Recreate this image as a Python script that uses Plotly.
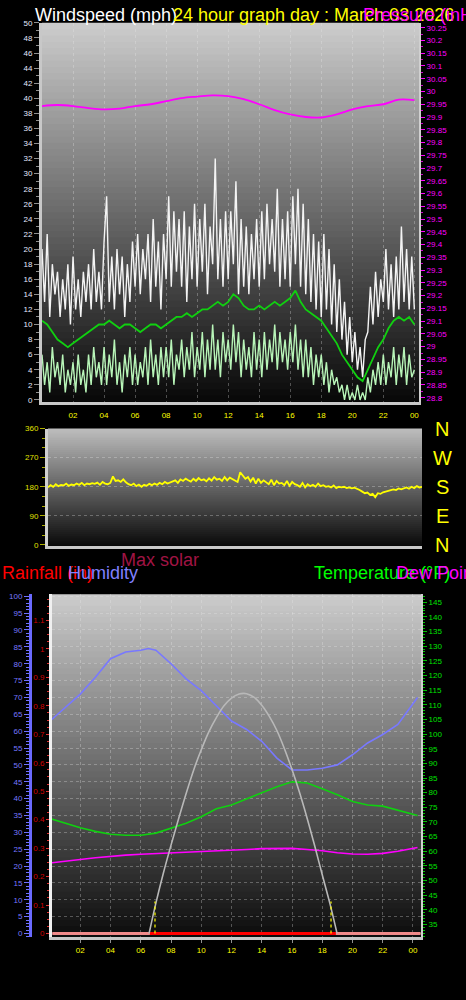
import plotly.graph_objects as go

W, H = 466, 1000


def fx(p):
    return p / W


def fy(p):
    return 1 - p / H


# ---------------- DATA ----------------
# top panel: 10-minute samples over 24 h
gust_mph = [
    20, 13, 22, 11, 18, 14,
    17, 11, 16, 12, 18, 10,
    19, 12, 16, 11, 17, 13,
    18, 12, 20, 13, 17, 12,
    21, 27, 13, 19, 12, 20,
    14, 19, 11, 18, 13, 21,
    15, 22, 14, 20, 16, 22,
    13, 24, 15, 21, 12, 22,
    16, 27, 15, 25, 17, 24,
    15, 25, 13, 23, 16, 26,
    15, 24, 17, 26, 14, 23,
    18, 32, 16, 24, 15, 25,
    16, 25, 18, 29, 14, 24,
    15, 23, 14, 22, 16, 24,
    15, 25, 16, 26, 18, 24,
    17, 28, 15, 24, 16, 25,
    15, 27, 18, 28, 15, 26,
    14, 24, 13, 22, 12, 21,
    11, 22, 12, 20, 10, 18,
    9, 16, 8, 13, 6, 11,
    5, 9, 4, 7, 3, 8,
    9, 15, 10, 17, 11, 16,
    13, 20, 12, 18, 11, 19,
    12, 23, 13, 20, 12, 19,
    12,
]
wind_mph = [
    6, 2, 5, 1, 7, 3,
    5, 2, 6, 1, 4, 2,
    5, 1, 6, 2, 4, 1,
    6, 2, 7, 3, 5, 2,
    7, 2, 6, 3, 8, 2,
    5, 1, 6, 3, 7, 2,
    6, 2, 5, 3, 7, 2,
    8, 3, 6, 2, 7, 3,
    7, 3, 8, 2, 6, 4,
    8, 3, 7, 4, 9, 3,
    7, 4, 9, 3, 8, 4,
    10, 4, 8, 3, 9, 5,
    8, 4, 10, 5, 9, 3,
    8, 4, 7, 3, 9, 4,
    8, 3, 9, 4, 8, 5,
    10, 4, 9, 5, 8, 4,
    9, 5, 10, 4, 8, 3,
    8, 3, 7, 2, 6, 3,
    6, 2, 5, 1, 4, 2,
    3, 1, 2, 0, 2, 0,
    1, 0, 2, 0, 1, 0,
    3, 1, 4, 2, 5, 2,
    6, 2, 5, 3, 7, 2,
    6, 3, 7, 2, 6, 3,
    4,
]
# 20-minute average wind
avg_mph = [
    10.5, 10, 9,
    8, 7.5, 7,
    7.5, 8, 8.5,
    9, 9.5, 10,
    10, 10.5, 10,
    9.5, 10, 10,
    9.5, 9, 9.5,
    10, 10, 9.5,
    10, 10.5, 11,
    11, 11.5, 11,
    11.5, 12, 12,
    12.5, 13, 12.5,
    13, 14, 13.5,
    12.5, 12, 12,
    12.5, 12, 12.5,
    13, 12.5, 13,
    13.5, 14.5, 13,
    12, 11.5, 11,
    10.5, 9.5, 8.5,
    7.5, 6, 5,
    4, 3, 2.5,
    4, 5.5, 7,
    8, 9.5, 10.5,
    11, 10.5, 11,
    10,
]
pressure_hours = list(range(25))
pressure_inhg = [29.943, 29.947, 29.943, 29.935, 29.930, 29.933, 29.943, 29.950,
                 29.962, 29.974, 29.980, 29.985, 29.982, 29.970, 29.950, 29.927,
                 29.910, 29.900, 29.898, 29.910, 29.930, 29.943, 29.950, 29.968,
                 29.966]

# middle panel: wind direction, 10-minute samples
dir_deg = [
    178, 185, 180, 188, 182, 186,
    184, 190, 183, 187, 185, 190,
    186, 192, 185, 190, 188, 191,
    189, 193, 186, 195, 190, 188,
    192, 212, 198, 200, 195, 203,
    194, 188, 185, 190, 182, 187,
    180, 186, 183, 189, 185, 190,
    186, 192, 188, 195, 190, 193,
    195, 200, 192, 203, 198, 205,
    200, 196, 205, 198, 207, 200,
    203, 197, 206, 199, 210, 202,
    205, 198, 210, 200, 208, 203,
    200, 195, 225, 215, 205, 210,
    196, 208, 190, 205, 192, 200,
    195, 188, 202, 185, 198, 190,
    192, 185, 198, 183, 195, 188,
    185, 180, 192, 178, 188, 182,
    186, 180, 190, 182, 185, 180,
    182, 178, 184, 176, 180, 178,
    180, 176, 178, 175, 177, 174,
    170, 165, 160, 162, 155, 158,
    148, 160, 158, 163, 165, 168,
    168, 172, 170, 175, 172, 176,
    178, 174, 180, 176, 182, 178,
    180,
]

# bottom panel
hum_hours = [0, 1, 2, 3, 4, 5, 6, 6.5, 7, 8, 9, 10, 11, 12, 13, 14, 15, 16, 17, 18,
             19, 20, 21, 22, 23, 24, 24.3]
humidity_pct = [63, 67, 71, 76, 81.5, 83.5, 84, 84.5, 84, 80, 75.5, 72, 67.5, 63, 60.5,
                57, 52, 48.5, 48.5, 49, 50, 53, 56.5, 59, 62, 68, 70]
temp_hours = [0, 1, 2, 3, 4, 5, 6, 7, 8, 9, 10, 11, 12, 13, 14, 15, 16, 17, 18, 19, 20,
              21, 22, 23, 24, 24.3]
temp_f = [71.2, 69.5, 68, 66.8, 65.8, 65.5, 65.5, 66.2, 67.8, 69.6, 71.8, 74.5, 75.8,
          77.8, 80, 82, 83.7, 83.3, 81.3, 79.3, 77, 75.8, 75.4, 74, 72.8, 72.2]
dew_f = [56, 56.5, 57.2, 57.8, 58.3, 58.7, 59, 59.2, 59.4, 59.6, 59.8, 60, 60.3, 60.6,
         60.9, 61, 61, 60.6, 60.2, 59.5, 59.1, 59, 59.3, 60, 60.8, 61.3]
solar_hours = [6.55, 7, 7.5, 8, 8.5, 9, 9.5, 10, 10.5, 11, 11.5, 12, 12.5, 12.8, 13,
               13.5, 14, 14.5, 15, 15.5, 16, 16.5, 17, 17.5, 18, 18.5, 18.98]
max_solar = [0, 90, 180, 262, 340, 415, 485, 545, 598, 640, 675, 698, 710, 712, 711,
             700, 677, 644, 602, 548, 486, 418, 342, 260, 174, 90, 0]
sun_marks = [6.94, 18.58]
sun_mark_height = [95, 95]
rain_hours = [0.15, 24.5]
rain_in = [0, 0]
rain_day_hours = [6.6, 18.9]
rain_day_in = [0, 0]

hour_ticks = [2, 4, 6, 8, 10, 12, 14, 16, 18, 20, 22, 24]
hour_labels = ["02", "04", "06", "08", "10", "12", "14", "16", "18", "20", "22", "00"]
press_ticks = [30.25, 30.2, 30.15, 30.1, 30.05, 30, 29.95, 29.9, 29.85, 29.8, 29.75, 29.7,
               29.65, 29.6, 29.55, 29.5, 29.45, 29.4, 29.35, 29.3, 29.25, 29.2, 29.15,
               29.1, 29.05, 29, 28.95, 28.9, 28.85, 28.8]
press_labels = ["30.25", "30.2", "30.15", "30.1", "30.05", "30", "29.95", "29.9", "29.85",
                "29.8", "29.75", "29.7", "29.65", "29.6", "29.55", "29.5", "29.45", "29.4",
                "29.35", "29.3", "29.25", "29.2", "29.15", "29.1", "29.05", "29", "28.95",
                "28.9", "28.85", "28.8"]
rain_ticks = [0, 0.1, 0.2, 0.3, 0.4, 0.5, 0.6, 0.7, 0.8, 0.9, 1, 1.1]
rain_labels = ["0", "0.1", "0.2", "0.3", "0.4", "0.5", "0.6", "0.7", "0.8", "0.9", "1", "1.1"]

t10 = [i / 6 for i in range(len(gust_mph))]
t20 = [i / 3 for i in range(len(avg_mph))]
tdir = [i / 6 for i in range(len(dir_deg))]

FONT = "Liberation Sans, Arial, sans-serif"

fig = go.Figure()
fig.add_trace(go.Scatter(x=t10, y=gust_mph, mode="lines", line=dict(color="#f4f4f4", width=1.4),
                         xaxis="x", yaxis="y", hoverinfo="skip"))
fig.add_trace(go.Scatter(x=t10, y=wind_mph, mode="lines", line=dict(color="#b8f5b8", width=1.4),
                         xaxis="x", yaxis="y", hoverinfo="skip"))
fig.add_trace(go.Scatter(x=t20, y=avg_mph, mode="lines", line=dict(color="#10d010", width=1.8),
                         xaxis="x", yaxis="y", hoverinfo="skip"))
fig.add_trace(go.Scatter(x=pressure_hours, y=pressure_inhg, mode="lines", line_shape="spline",
                         line=dict(color="#ff00ff", width=1.8), xaxis="x", yaxis="y2",
                         hoverinfo="skip"))
fig.add_trace(go.Scatter(x=tdir, y=dir_deg, mode="lines", line=dict(color="#ffff00", width=1.8),
                         xaxis="x2", yaxis="y3", hoverinfo="skip"))
# bottom
fig.add_trace(go.Scatter(x=solar_hours, y=max_solar, mode="lines", line_shape="spline",
                         line=dict(color="#b8b8b8", width=1.6), xaxis="x3", yaxis="y7",
                         hoverinfo="skip"))
sx, sy = [], []
for h, v in zip(sun_marks, sun_mark_height):
    sx += [h, h, None]
    sy += [0, v, None]
fig.add_trace(go.Scatter(x=sx, y=sy, mode="lines", line=dict(color="#ffff00", width=1.2, dash="dot"),
                         xaxis="x3", yaxis="y7", hoverinfo="skip"))
fig.add_trace(go.Scatter(x=temp_hours, y=dew_f, mode="lines", line=dict(color="#ff00ff", width=1.6),
                         xaxis="x3", yaxis="y6", hoverinfo="skip"))
fig.add_trace(go.Scatter(x=temp_hours, y=temp_f, mode="lines", line=dict(color="#10d010", width=1.6),
                         xaxis="x3", yaxis="y6", hoverinfo="skip"))
fig.add_trace(go.Scatter(x=hum_hours, y=humidity_pct, mode="lines", line=dict(color="#7878ff", width=1.6),
                         xaxis="x3", yaxis="y4", hoverinfo="skip"))
fig.add_trace(go.Scatter(x=rain_hours, y=rain_in, mode="lines", line=dict(color="#f08a8a", width=3),
                         xaxis="x3", yaxis="y5", hoverinfo="skip"))
fig.add_trace(go.Scatter(x=rain_day_hours, y=rain_day_in, mode="lines",
                         line=dict(color="#ff0000", width=3), xaxis="x3", yaxis="y5",
                         hoverinfo="skip"))

# gradient backgrounds
shapes = []


def gradient(xref, yref, top, bottom, n=60):
    for i in range(n):
        v = int(bottom + (top - bottom) * (i + 0.5) / n)
        shapes.append(dict(type="rect", xref=xref, yref=yref, x0=0, x1=1, y0=i / n,
                           y1=min(1, (i + 1.6) / n),
                           fillcolor=f"rgb({v},{v},{v})", line=dict(width=0), layer="below"))


gradient("x domain", "y domain", 205, 8)
gradient("x2 domain", "y3 domain", 190, 10)
gradient("x3 domain", "y4 domain", 205, 12)

grid = "rgba(235,235,235,0.3)"
tick_small = dict(size=8, family=FONT)

layout = dict(
    width=W, height=H, autosize=False,
    margin=dict(l=0, r=0, t=0, b=0),
    paper_bgcolor="black", plot_bgcolor="black",
    showlegend=False,
    shapes=shapes,
    xaxis=dict(domain=[fx(42), fx(419)], range=[0, 24.3], anchor="y",
               tickvals=hour_ticks, ticktext=hour_labels, tickfont=dict(color="#ffff00", **tick_small),
               showgrid=True, gridcolor=grid, griddash="dot", zeroline=False,
               showline=True, linecolor="#c8c8c8", linewidth=3, ticks="outside", ticklen=4,
               tickcolor="black"),
    yaxis=dict(domain=[fy(401), fy(19)], range=[-0.25, 50], anchor="x", dtick=2,
               tickfont=dict(color="#e4e8ff", **tick_small), ticks="outside", ticklen=5,
               tickcolor="#909090", minor=dict(dtick=1, ticks="outside", ticklen=3, tickcolor="#909090"),
               showgrid=False, zeroline=False,
               showline=True, linecolor="#c8c8c8", linewidth=3),
    yaxis2=dict(overlaying="y", side="right", anchor="x", range=[28.784, 30.269],
                tickvals=press_ticks, ticktext=press_labels, tickfont=dict(color="#ff00ff", **tick_small),
                ticks="outside", ticklen=4, tickcolor="#ff00ff",
                minor=dict(dtick=0.025, ticks="outside", ticklen=2, tickcolor="#cc00cc"),
                showgrid=False, zeroline=False, showline=True, linecolor="#d0d0d0", linewidth=2),
    xaxis2=dict(domain=[fx(48), fx(422)], range=[0, 24], anchor="y3", showticklabels=False,
                showgrid=False, zeroline=False, showline=True, linecolor="#c8c8c8", linewidth=3, ticks=""),
    yaxis3=dict(domain=[fy(546), fy(428)], range=[-2, 360], anchor="x2",
                tickvals=[0, 90, 180, 270, 360], tickfont=dict(color="#e0e000", **tick_small),
                ticks="outside", ticklen=5, tickcolor="#b0b000",
                minor=dict(dtick=30, ticks="outside", ticklen=3, tickcolor="#b0b000"),
                showgrid=True, gridcolor=grid, griddash="dot", zeroline=False,
                showline=True, linecolor="#d0d0d0", linewidth=3),
    xaxis3=dict(domain=[fx(52), fx(421)], range=[0.13, 24.53], anchor="y5",
                tickvals=hour_ticks, ticktext=hour_labels, tickfont=dict(color="#ffff00", **tick_small),
                showgrid=True, gridcolor=grid, griddash="dot", zeroline=False,
                showline=True, linecolor="#c8c8c8", linewidth=3, ticks="outside", ticklen=3,
                tickcolor="#909090"),
    yaxis4=dict(domain=[fy(941), fy(595)], range=[-1.18, 100.6], anchor="free", position=fx(30),
                side="left", dtick=5, tickfont=dict(color="#7878ff", **tick_small),
                ticks="outside", ticklen=5, tickcolor="#7070ff",
                minor=dict(dtick=1, ticks="outside", ticklen=3, tickcolor="#7070ff"),
                showgrid=True, gridcolor=grid, griddash="dot", zeroline=False,
                showline=True, linecolor="#6a6aff", linewidth=3),
    yaxis5=dict(overlaying="y4", anchor="x3", side="left", range=[-0.014, 1.192],
                tickvals=rain_ticks, ticktext=rain_labels, tickfont=dict(color="#d00000", **tick_small),
                ticks="outside", ticklen=3, tickcolor="#e03030",
                minor=dict(dtick=0.025, ticks="outside", ticklen=2, tickcolor="#e03030"),
                showgrid=False, zeroline=False, showline=True, linecolor="#f0f0f0", linewidth=3),
    yaxis6=dict(overlaying="y4", anchor="x3", side="right", range=[30.6, 147.7], dtick=5,
                tickfont=dict(color="#00e000", **tick_small), ticks="outside", ticklen=4,
                tickcolor="#00c000", minor=dict(dtick=1, ticks="outside", ticklen=2, tickcolor="#00c000"),
                showgrid=False, zeroline=False, showline=True, linecolor="#d0d0d0", linewidth=2),
    yaxis7=dict(overlaying="y4", anchor="x3", range=[-11.8, 1006], visible=False),
)
fig.update_layout(**layout)

ann = []


def text(s, x, y, color, size=18, anchor="left"):
    ann.append(dict(text=s, x=fx(x), y=fy(y), xref="paper", yref="paper", xanchor=anchor,
                    yanchor="middle", showarrow=False, font=dict(color=color, size=size, family=FONT)))


text("Windspeed (mph)", 33, 11, "#ffffff")
text("24 hour graph day : March 03 2026", 171, 11, "#ffff00")
text("Pressure (inHg)", 361, 11, "#ff00ff")
for s, yy in zip(["N", "W", "S", "E", "N"], [428, 458, 487, 516, 545]):
    text(s, 442, yy, "#ffff00", 20, "center")
text("Max solar", 119, 560, "#a01444")
text("Rainfall (in)", 0, 574, "#ff0000")
text("Humidity", 66, 574, "#8080ff")
text("Temperature (°F)", 312, 574, "#00ff00")
text("Dew Point (°F)", 394, 574, "#ff00ff")
fig.update_layout(annotations=ann)

fig.write_html("out.html", config={"displayModeBar": False, "staticPlot": True},
               post_script="document.body.style.margin='0';document.body.style.background='black';")
